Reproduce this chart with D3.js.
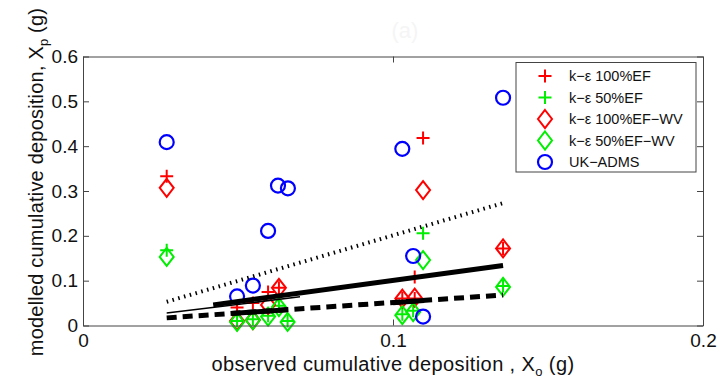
<!DOCTYPE html>
<html>
<head>
<meta charset="utf-8">
<script src="https://cdn.jsdelivr.net/npm/d3@7"></script>
<style>
  body { margin: 0; background: #fff; }
  svg text { font-family: "Liberation Sans", Arial, sans-serif; fill: #111; }
</style>
</head>
<body>
<svg id="chart" width="722" height="381"></svg>
<script>
// observed (x) vs modelled (y) cumulative deposition, grams
const ke100EF = [[0.027,0.333],[0.0497,0.04],[0.0548,0.05],[0.0597,0.075],[0.0632,0.084],
  [0.103,0.06],[0.107,0.06],[0.107,0.108],[0.1097,0.418],[0.1355,0.172]];
const ke50EF = [[0.027,0.168],[0.0497,0.01],[0.0548,0.014],[0.0597,0.022],[0.0632,0.044],
  [0.066,0.01],[0.103,0.025],[0.1065,0.033],[0.1097,0.206],[0.1355,0.088]];
const ke100EFWV = [[0.027,0.307],[0.0497,0.01],[0.0548,0.012],[0.0597,0.046],[0.0632,0.084],
  [0.103,0.06],[0.107,0.062],[0.1097,0.302],[0.1355,0.172]];
const ke50EFWV = [[0.027,0.153],[0.0497,0.008],[0.0548,0.012],[0.0597,0.02],[0.0632,0.041],
  [0.066,0.008],[0.103,0.023],[0.1065,0.03],[0.1097,0.146],[0.1355,0.086]];
const ukAdms = [[0.027,0.409],[0.0497,0.065],[0.0548,0.089],[0.0597,0.211],[0.0629,0.312],
  [0.0661,0.306],[0.103,0.394],[0.1065,0.155],[0.1097,0.02],[0.1355,0.508]];

// fitted lines
const fitDotted = [[0.027,0.053],[0.1355,0.273]];
const fitSolid = [[0.042,0.046],[0.1355,0.134]];
const fitThin = [[0.027,0.028],[0.07,0.064]];
const fitDashed = [[0.027,0.017],[0.1355,0.068]];
const fitDashedSolid1 = [[0.048,0.027],[0.066,0.035]];
const fitDashedSolid2 = [[0.1,0.051],[0.11,0.056]];

const xTicks = [0, 0.1, 0.2];
const yTicks = [0, 0.1, 0.2, 0.3, 0.4, 0.5, 0.6];

const legendNames = ["k\u2212\u03b5 100%EF", "k\u2212\u03b5 50%EF", "k\u2212\u03b5 100%EF\u2212WV", "k\u2212\u03b5 50%EF\u2212WV", "UK\u2212ADMS"];

const pLeft = 83, pRight = 703, pTop = 56.5, pBottom = 325.5;
const svg = d3.select("#chart");

let x = d3.scaleLinear().domain([0, 0.2]).range([pLeft, pRight]);
let y = d3.scaleLinear().domain([0, 0.6]).range([pBottom, pTop]);

// faint panel mark
svg.append("text").attr("x", 405).attr("y", 38).attr("text-anchor", "middle")
  .attr("font-size", 22).style("fill", "#f5f5f5").text("(a)");

// markers
function plus(g, data, color) {
  g.selectAll(null).data(data).enter().append("path")
    .attr("d", d => "M" + (x(d[0]) - 6.5) + "," + y(d[1]) + "h13M" + x(d[0]) + "," + (y(d[1]) - 6.5) + "v13")
    .attr("stroke", color).attr("stroke-width", 2).attr("fill", "none");
}
function diamond(g, data, color) {
  g.selectAll(null).data(data).enter().append("path")
    .attr("d", d => { let cx = x(d[0]), cy = y(d[1]);
      return "M" + cx + "," + (cy - 9) + "L" + (cx + 7) + "," + cy + "L" + cx + "," + (cy + 9) + "L" + (cx - 7) + "," + cy + "Z"; })
    .attr("stroke", color).attr("stroke-width", 2).attr("fill", "none");
}
function circle(g, data, color) {
  g.selectAll(null).data(data).enter().append("circle")
    .attr("cx", d => x(d[0])).attr("cy", d => y(d[1])).attr("r", 7)
    .attr("stroke", color).attr("stroke-width", 2.2).attr("fill", "none");
}

let marks = svg.append("g");
plus(marks, ke100EF, "#ff0000");
plus(marks, ke50EF, "#00ee00");
diamond(marks, ke100EFWV, "#ff0000");
diamond(marks, ke50EFWV, "#00ee00");
circle(marks, ukAdms, "#0000ff");

// lines
let line = d3.line().x(d => x(d[0])).y(d => y(d[1]));
let lines = svg.append("g").attr("fill", "none").attr("stroke", "#000");
lines.append("path").attr("d", line(fitDotted)).attr("stroke-width", 4).attr("stroke-dasharray", "1.5,4.5");
lines.append("path").attr("d", line(fitThin)).attr("stroke-width", 1.5);
lines.append("path").attr("d", line(fitSolid)).attr("stroke-width", 5);
lines.append("path").attr("d", line(fitDashed)).attr("stroke-width", 5).attr("stroke-dasharray", "10,6");
lines.append("path").attr("d", line(fitDashedSolid1)).attr("stroke-width", 5);
lines.append("path").attr("d", line(fitDashedSolid2)).attr("stroke-width", 5);

// axes (ticks inside, mirrored on top/right)
svg.append("g").attr("transform", "translate(0," + pBottom + ")")
  .call(d3.axisBottom(x).tickValues(xTicks).tickSizeInner(-6).tickSizeOuter(0).tickPadding(8).tickFormat(d3.format("")))
  .call(g => g.selectAll("text").attr("font-size", 19));
svg.append("g").attr("transform", "translate(" + pLeft + ",0)")
  .call(d3.axisLeft(y).tickValues(yTicks).tickSizeInner(-6).tickSizeOuter(0).tickPadding(5).tickFormat(d3.format(".1f")))
  .call(g => g.selectAll("text").attr("font-size", 19))
  .call(g => g.selectAll(".tick").filter(d => d === 0).select("text").text("0"));
svg.append("g").attr("transform", "translate(0," + pTop + ")")
  .call(d3.axisTop(x).tickValues(xTicks).tickSizeInner(-6).tickSizeOuter(0).tickFormat(""));
svg.append("g").attr("transform", "translate(" + pRight + ",0)")
  .call(d3.axisRight(y).tickValues(yTicks).tickSizeInner(-6).tickSizeOuter(0).tickFormat(""));
svg.selectAll(".domain, .tick line").attr("stroke", "#444");

// axis labels
let xl = svg.append("text").attr("x", 393).attr("y", 371).attr("text-anchor", "middle")
  .attr("font-size", 20).attr("letter-spacing", 0.4);
xl.append("tspan").text("observed cumulative deposition , X");
xl.append("tspan").attr("font-size", 13).attr("dy", 5).text("o");
xl.append("tspan").attr("dy", -5).text(" (g)");

let yl = svg.append("text").attr("transform", "translate(43,182) rotate(-90)")
  .attr("text-anchor", "middle").attr("font-size", 20).attr("letter-spacing", 0.2);
yl.append("tspan").text("modelled cumulative deposition, X");
yl.append("tspan").attr("font-size", 13).attr("dy", 5).text("p");
yl.append("tspan").attr("dy", -5).text(" (g)");

// legend
let lg = svg.append("g");
lg.append("rect").attr("x", 516).attr("y", 62.5).attr("width", 180).attr("height", 109.5)
  .attr("fill", "#fff").attr("stroke", "#444");
const legendY = d3.scalePoint().domain(legendNames).range([76, 162]);
let lx = 545;
let lm = lg.append("g");
plus(lm, [[x.invert(lx), y.invert(legendY(legendNames[0]))]], "#ff0000");
plus(lm, [[x.invert(lx), y.invert(legendY(legendNames[1]))]], "#00ee00");
diamond(lm, [[x.invert(lx), y.invert(legendY(legendNames[2]))]], "#ff0000");
diamond(lm, [[x.invert(lx), y.invert(legendY(legendNames[3]))]], "#00ee00");
circle(lm, [[x.invert(lx), y.invert(legendY(legendNames[4]))]], "#0000ff");
lg.selectAll(".lt").data(legendNames).enter().append("text")
  .attr("x", 569).attr("y", d => legendY(d)).attr("dy", "0.35em")
  .attr("font-size", 14.5).text(d => d);
</script>
</body>
</html>
